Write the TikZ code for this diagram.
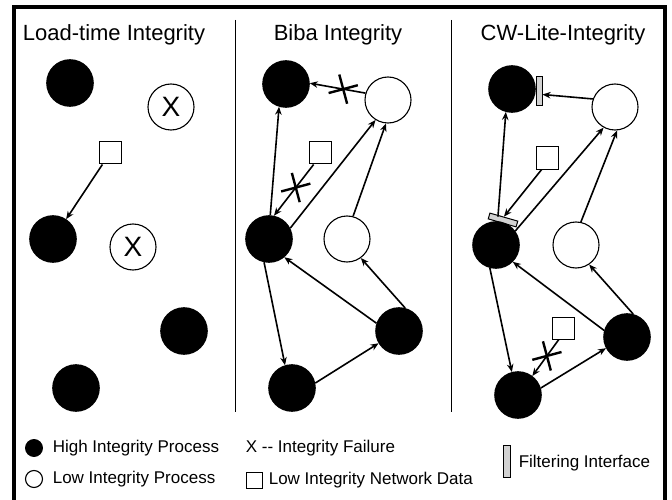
\documentclass[tikz,border=0pt]{standalone}
\usepackage{fontspec}
\setmainfont{Liberation Sans}
\usetikzlibrary{arrows.meta,shapes.misc,calc}
\tikzset{
    -{Stealth[length=8pt,width=6.5pt]},x=1pt,y=-1pt,
    high/.style ={circle, draw, fill=black, minimum size=46pt, inner sep=0pt},
    low/.style ={circle, draw, fill=white, line width=1.1pt, minimum size=46pt, inner sep=0pt, font=\fontsize{28}{28}\selectfont},
    data/.style = {rectangle, draw, fill=white, line width=1pt, minimum size=22pt, inner sep=0pt},
    filter/.style = {rectangle, draw, fill=gray!35, line width=1pt, minimum width=6pt, minimum height=29pt, inner sep=0pt},
    fail/.style = {-, cross out, draw, line width=2.4pt, minimum size=19pt, inner sep=0pt, rotate=-30},
    title/.style = {font=\fontsize{22}{22}\selectfont},
    key/.style = {anchor=west, inner sep=0pt, font=\fontsize{17}{17}\selectfont}
}
\begin{document}
\begin{tikzpicture}[line width=1.6pt]
        \useasboundingbox (0,0) rectangle (672,500);
        \draw[-,line width=3.5pt] (14,500) -- (14,7) -- (665,7) -- (665,500);
        \draw[-,line width=1pt] (235,20) -- (235,412);
        \draw[-,line width=1pt] (451,20) -- (451,412);

        \node[title] (t1) at (114,35) {Load-time Integrity};
        \node[title] (t2) at (338,35) {Biba Integrity};
        \node[title] (t3) at (563,35) {CW-Lite-Integrity};

        % load-time
        \node[high] (l1) at (70,83) {};
        \node[low] (l2) at (171,107) {X};
        \node[data] (ld) at (110,153) {};
        \node[high] (l3) at (53,239) {};
        \node[low] (l4) at (133,247) {X};
        \node[high] (l5) at (184,331) {};
        \node[high] (l6) at (76,388) {};

        \path (ld) edge (l3);

        % biba
        \node[high] (b1) at (286,84) {};
        \node[low] (b2) at (388,100) {};
        \node[data] (bd) at (320,153) {};
        \node[high] (b3) at (269,239) {};
        \node[low] (b4) at (347,239) {};
        \node[high] (b5) at (399,331) {};
        \node[high] (b6) at (292,388) {};

        \path (b2.163) edge node[fail,pos=0.4] (bx1) {} (b1.2);
        \path (bd.241) edge node[fail,pos=0.45] (bx2) {} (b3.78);
        \path (b3.87) edge (b1.253);
        \path (b3.27) edge (b2.238);
        \path (b4.75) edge (b2.265);
        \path (b5.161) edge (b3.310);
        \path (b5.75) edge (b4.306);
        \path (b3.258) edge (b6.107);
        \path (b6.12) edge (b5.211);

        % cw-lite
        \node[high] (c1) at (512,89) {};
        \node[filter] (cf1) at (539,91.5) {};
        \node[low] (c2) at (615,107) {};
        \node[data] (cd1) at (547,158) {};
        \node[filter,rotate=74] (cf2) at (503,220) {};
        \node[high] (c3) at (496,245) {};
        \node[low] (c4) at (576,245) {};
        \node[data] (cd2) at (563,328) {};
        \node[high] (c5) at (627,337) {};
        \node[high] (c6) at (518,395) {};

        \path (c2.160) edge ([yshift=-3pt]cf1.east);
        \path (cd1.245) edge (cf2.east);
        \path ([xshift=-6pt]cf2.east) edge (c1.255);
        \path (c3.36) edge (c2.241);
        \path (c4.78) edge (c2.275);
        \path (c5.164) edge (c3.315);
        \path (c5.75) edge (c4.304);
        \path (c3.255) edge (c6.105);
        \path (c6.17) edge (c5.208);
        \path (cd2.250) edge node[fail,pos=0.45] (cx1) {} (c6.53);

        % legend
        \node[high,minimum size=17pt,line width=0.9pt] (kh) at (34,448) {};
        \node[key] (khl) at (52,448) {High Integrity Process};
        \node[low,minimum size=17pt] (kl) at (34,479) {};
        \node[key] (kll) at (52,479) {Low Integrity Process};
        \node[key] (kx) at (245,448) {X {-}{-} Integrity Failure};
        \node[data,minimum size=16pt] (kd) at (254,480) {};
        \node[key] (kdl) at (268,480) {Low Integrity Network Data};
        \node[filter,minimum width=7pt,minimum height=32pt] (kf) at (507,461) {};
        \node[key] (kfl) at (518,463) {Filtering Interface};
\end{tikzpicture}
\end{document}
